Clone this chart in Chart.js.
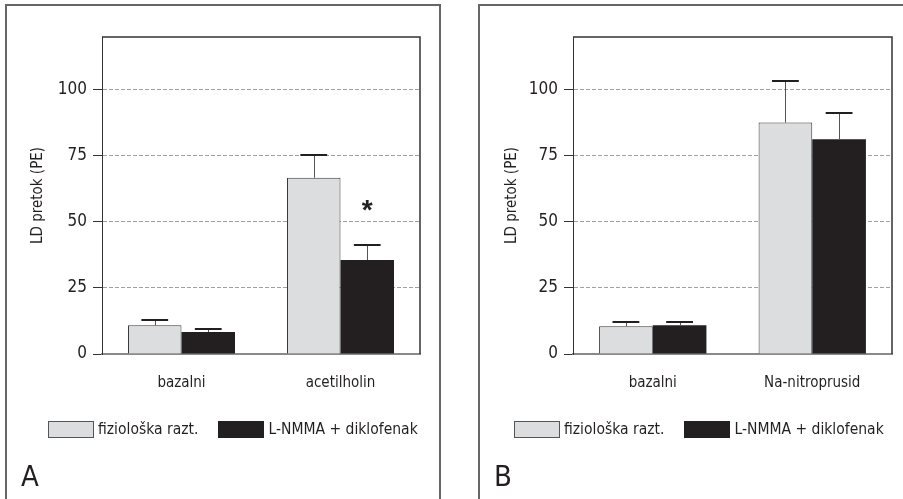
<!DOCTYPE html>
<html>
<head>
<meta charset="utf-8">
<title>LD pretok</title>
<script src="https://cdn.jsdelivr.net/npm/chart.js@4.4.0/dist/chart.umd.min.js"></script>
<style>
    body { margin: 0; background: #fff; width: 903px; height: 499px; overflow: hidden; position: relative;
           font-family: "DejaVu Sans Condensed", "Liberation Sans Narrow", sans-serif; color: #231f20; }
    .frame { position: absolute; border: 2px solid #666; pointer-events: none; }
    #frameA { left: 5px; top: 4px; width: 432px; height: 560px; }
    #frameB { left: 478px; top: 4px; width: 500px; height: 560px; }
    canvas { position: absolute; top: 0; }
    #chartA { left: 0; }
    #chartB { left: 450px; }
    .legend { position: absolute; top: 421px; display: flex; align-items: center; font-size: 15.5px; line-height: 17px; }
    .legend .box { width: 46px; height: 17px; box-sizing: border-box; margin-right: 4px; }
    .legend .txt { margin-right: 20px; white-space: nowrap; }
    #legendA { left: 48px; }
    #legendB { left: 514px; }
    .panelLabel { position: absolute; top: 459px; font-size: 29px; }
    #labelA { left: 21px; }
    #labelB { left: 494px; }
</style>
</head>
<body>
<div class="frame" id="frameA"></div>
<div class="frame" id="frameB"></div>
<canvas id="chartA" width="450" height="499"></canvas>
<canvas id="chartB" width="453" height="499"></canvas>
<div class="legend" id="legendA"></div>
<div class="legend" id="legendB"></div>
<div class="panelLabel" id="labelA">A</div>
<div class="panelLabel" id="labelB">B</div>

<script>
// ---- data ----
const seriesLabels = ["fiziološka razt.", "L-NMMA + diklofenak"];
const seriesColors = ["#dcdddf", "#231f20"];

const categoriesA = ["bazalni", "acetilholin"];
const fizioA = [10.9, 66.7];
const fizioErrA = [2.0, 8.6];
const lnmmaA = [8.3, 35.6];
const lnmmaErrA = [1.3, 5.8];
const starsA = ["", "*"]; // significance marks on L-NMMA series

const categoriesB = ["bazalni", "Na-nitroprusid"];
const fizioB = [10.5, 87.6];
const fizioErrB = [1.5, 15.9];
const lnmmaB = [10.9, 81.3];
const lnmmaErrB = [1.1, 10.1];
const starsB = ["", ""];

const yMax = 120;
const yStep = 25;
const yTitle = "LD pretok (PE)";

Chart.defaults.font.family = '"DejaVu Sans Condensed", "Liberation Sans Narrow", sans-serif';
Chart.defaults.color = "#231f20";

// error bars (upper whisker only) + significance stars
const errorBarPlugin = {
    id: "errorBars",
    afterDatasetsDraw(chart) {
        const ctx = chart.ctx;
        const yScale = chart.scales.y;
        chart.data.datasets.forEach((ds, di) => {
            const meta = chart.getDatasetMeta(di);
            meta.data.forEach((bar, i) => {
                const top = yScale.getPixelForValue(ds.data[i] + ds.errors[i]);
                const half = bar.width / 4;
                ctx.save();
                ctx.strokeStyle = "#555";
                ctx.lineWidth = 1;
                ctx.beginPath();
                ctx.moveTo(Math.round(bar.x) + 0.5, bar.y);
                ctx.lineTo(Math.round(bar.x) + 0.5, top);
                ctx.stroke();
                ctx.strokeStyle = "#231f20";
                ctx.lineWidth = 2;
                ctx.beginPath();
                ctx.moveTo(bar.x - half, Math.round(top));
                ctx.lineTo(bar.x + half, Math.round(top));
                ctx.stroke();
                if (ds.stars && ds.stars[i]) {
                    ctx.fillStyle = "#231f20";
                    ctx.font = "bold 28px 'Liberation Sans', sans-serif";
                    ctx.textAlign = "center";
                    ctx.textBaseline = "alphabetic";
                    ctx.fillText(ds.stars[i], bar.x, top - 26);
                }
                ctx.restore();
            });
        });
    },
    afterDraw(chart) {
        // top and right edge of the plot frame
        const {ctx, chartArea: a} = chart;
        ctx.save();
        ctx.strokeStyle = "#333";
        ctx.lineWidth = 1.5;
        ctx.beginPath();
        ctx.moveTo(a.left, a.top);
        ctx.lineTo(a.right, a.top);
        ctx.lineTo(a.right, a.bottom);
        ctx.stroke();
        ctx.restore();
    }
};

function makeChart(canvasId, categories, fizio, fizioErr, lnmma, lnmmaErr, stars, padLeft, areaLeft, padRight) {
    return new Chart(document.getElementById(canvasId), {
        type: "bar",
        data: {
            labels: categories,
            datasets: [
                {
                    label: seriesLabels[0],
                    data: fizio,
                    errors: fizioErr,
                    backgroundColor: seriesColors[0],
                    borderColor: "#3a3a3a",
                    borderWidth: 1
                },
                {
                    label: seriesLabels[1],
                    data: lnmma,
                    errors: lnmmaErr,
                    stars: stars,
                    backgroundColor: seriesColors[1],
                    borderColor: seriesColors[1],
                    borderWidth: 0
                }
            ]
        },
        options: {
            responsive: false,
            animation: false,
            layout: { padding: { top: 37, left: padLeft, right: padRight, bottom: 105 } },
            datasets: { bar: { categoryPercentage: 0.673, barPercentage: 1.0 } },
            plugins: { legend: { display: false }, tooltip: { enabled: false } },
            scales: {
                x: {
                    grid: { display: false },
                    border: { color: "#8a8a8a", width: 2 },
                    ticks: { font: { size: 15 }, padding: 12, color: "#231f20" },
                    afterFit: s => { s.height = 40; }
                },
                y: {
                    min: 0,
                    max: yMax,
                    ticks: { stepSize: yStep, font: { size: 17 }, padding: 6, color: "#231f20" },
                    afterBuildTicks: s => { s.ticks = s.ticks.filter(t => t.value % yStep === 0); },
                    grid: {
                        color: c => (c.tick && c.tick.value === 0 ? "rgba(0,0,0,0)" : "#a0a0a0"),
                        tickColor: "#333",
                        tickLength: 9,
                        lineWidth: 1
                    },
                    border: { color: "#333", width: 1, dash: [4, 2] },
                    title: { display: true, text: yTitle, font: { size: 15 }, padding: { top: 29, bottom: 0 }, color: "#231f20" },
                    afterFit: s => { s.width = areaLeft - padLeft; }
                }
            }
        },
        plugins: [errorBarPlugin]
    });
}

function buildLegend(id) {
    const el = document.getElementById(id);
    seriesLabels.forEach((label, i) => {
        const box = document.createElement("span");
        box.className = "box";
        box.style.background = seriesColors[i];
        box.style.border = i === 0 ? "1px solid #555" : "none";
        const txt = document.createElement("span");
        txt.className = "txt";
        txt.textContent = label;
        el.appendChild(box);
        el.appendChild(txt);
    });
}

makeChart("chartA", categoriesA, fizioA, fizioErrA, lnmmaA, lnmmaErrA, starsA, 0, 102, 30);
makeChart("chartB", categoriesB, fizioB, fizioErrB, lnmmaB, lnmmaErrB, starsB, 24, 123, 11);
buildLegend("legendA");
buildLegend("legendB");
</script>
</body>
</html>
